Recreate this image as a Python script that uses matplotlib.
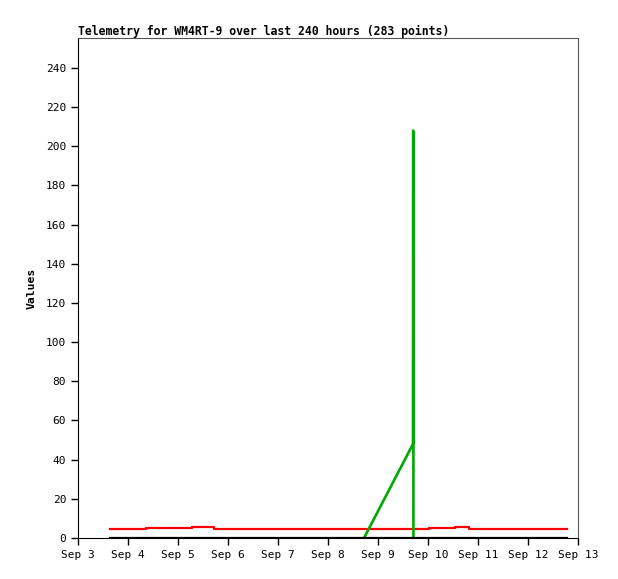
import matplotlib
matplotlib.use("Agg")
import matplotlib.pyplot as plt
import matplotlib.dates as mdates
from datetime import datetime, timedelta

plt.rcParams['font.family'] = ['DejaVu Sans Mono']

base = datetime(2023, 9, 3)

def dia(d):
    return base + timedelta(days=d - 3)

# red series (step-like)
rojo_dias = [3.64, 4.36, 4.36, 5.28, 5.28, 5.72, 5.72, 10.02, 10.02, 10.54, 10.54, 10.82, 10.82, 12.78]
rojo_val = [4.6, 4.6, 5.1, 5.1, 5.6, 5.6, 4.6, 4.6, 5.1, 5.1, 5.6, 5.6, 4.6, 4.6]

# black series
negro_dias = [3.64, 12.78]
negro_val = [0, 0]

# green series
verde_dias = [8.72, 9.70, 9.703, 9.706, 9.709]
verde_val = [0, 48, 208, 208, 0]

fig = plt.figure(figsize=(6.18, 5.79), dpi=100)
ax = fig.add_axes([78/618, 41/579, 500/618, 500/579])

ax.plot([dia(d) for d in rojo_dias], rojo_val, color="#ff0000", linewidth=1.6)
ax.plot([dia(d) for d in verde_dias], verde_val, color="#00aa00", linewidth=1.9)
ax.plot([dia(d) for d in negro_dias], negro_val, color="black", linewidth=1.6)

ax.set_xlim(dia(3), dia(13))
ax.set_ylim(0, 255.3)
ax.set_yticks(range(0, 241, 20))
ax.xaxis.set_major_locator(mdates.DayLocator())
ax.xaxis.set_major_formatter(mdates.DateFormatter("%b %-d"))

ax.tick_params(direction="out", length=5, width=1, labelsize=8, colors="black")
ax.spines["top"].set_color("#555555")
ax.spines["right"].set_color("#555555")
for s in ax.spines.values():
    s.set_linewidth(0.8)

ax.set_ylabel("Values", fontsize=8.2, fontweight="bold", labelpad=7)
fig.text(78/618, 1 - 31/579, "Telemetry for WM4RT-9 over last 240 hours (283 points)",
         fontsize=8.3, fontweight="bold", ha="left", va="center")

fig.savefig("out.png", dpi=100)
